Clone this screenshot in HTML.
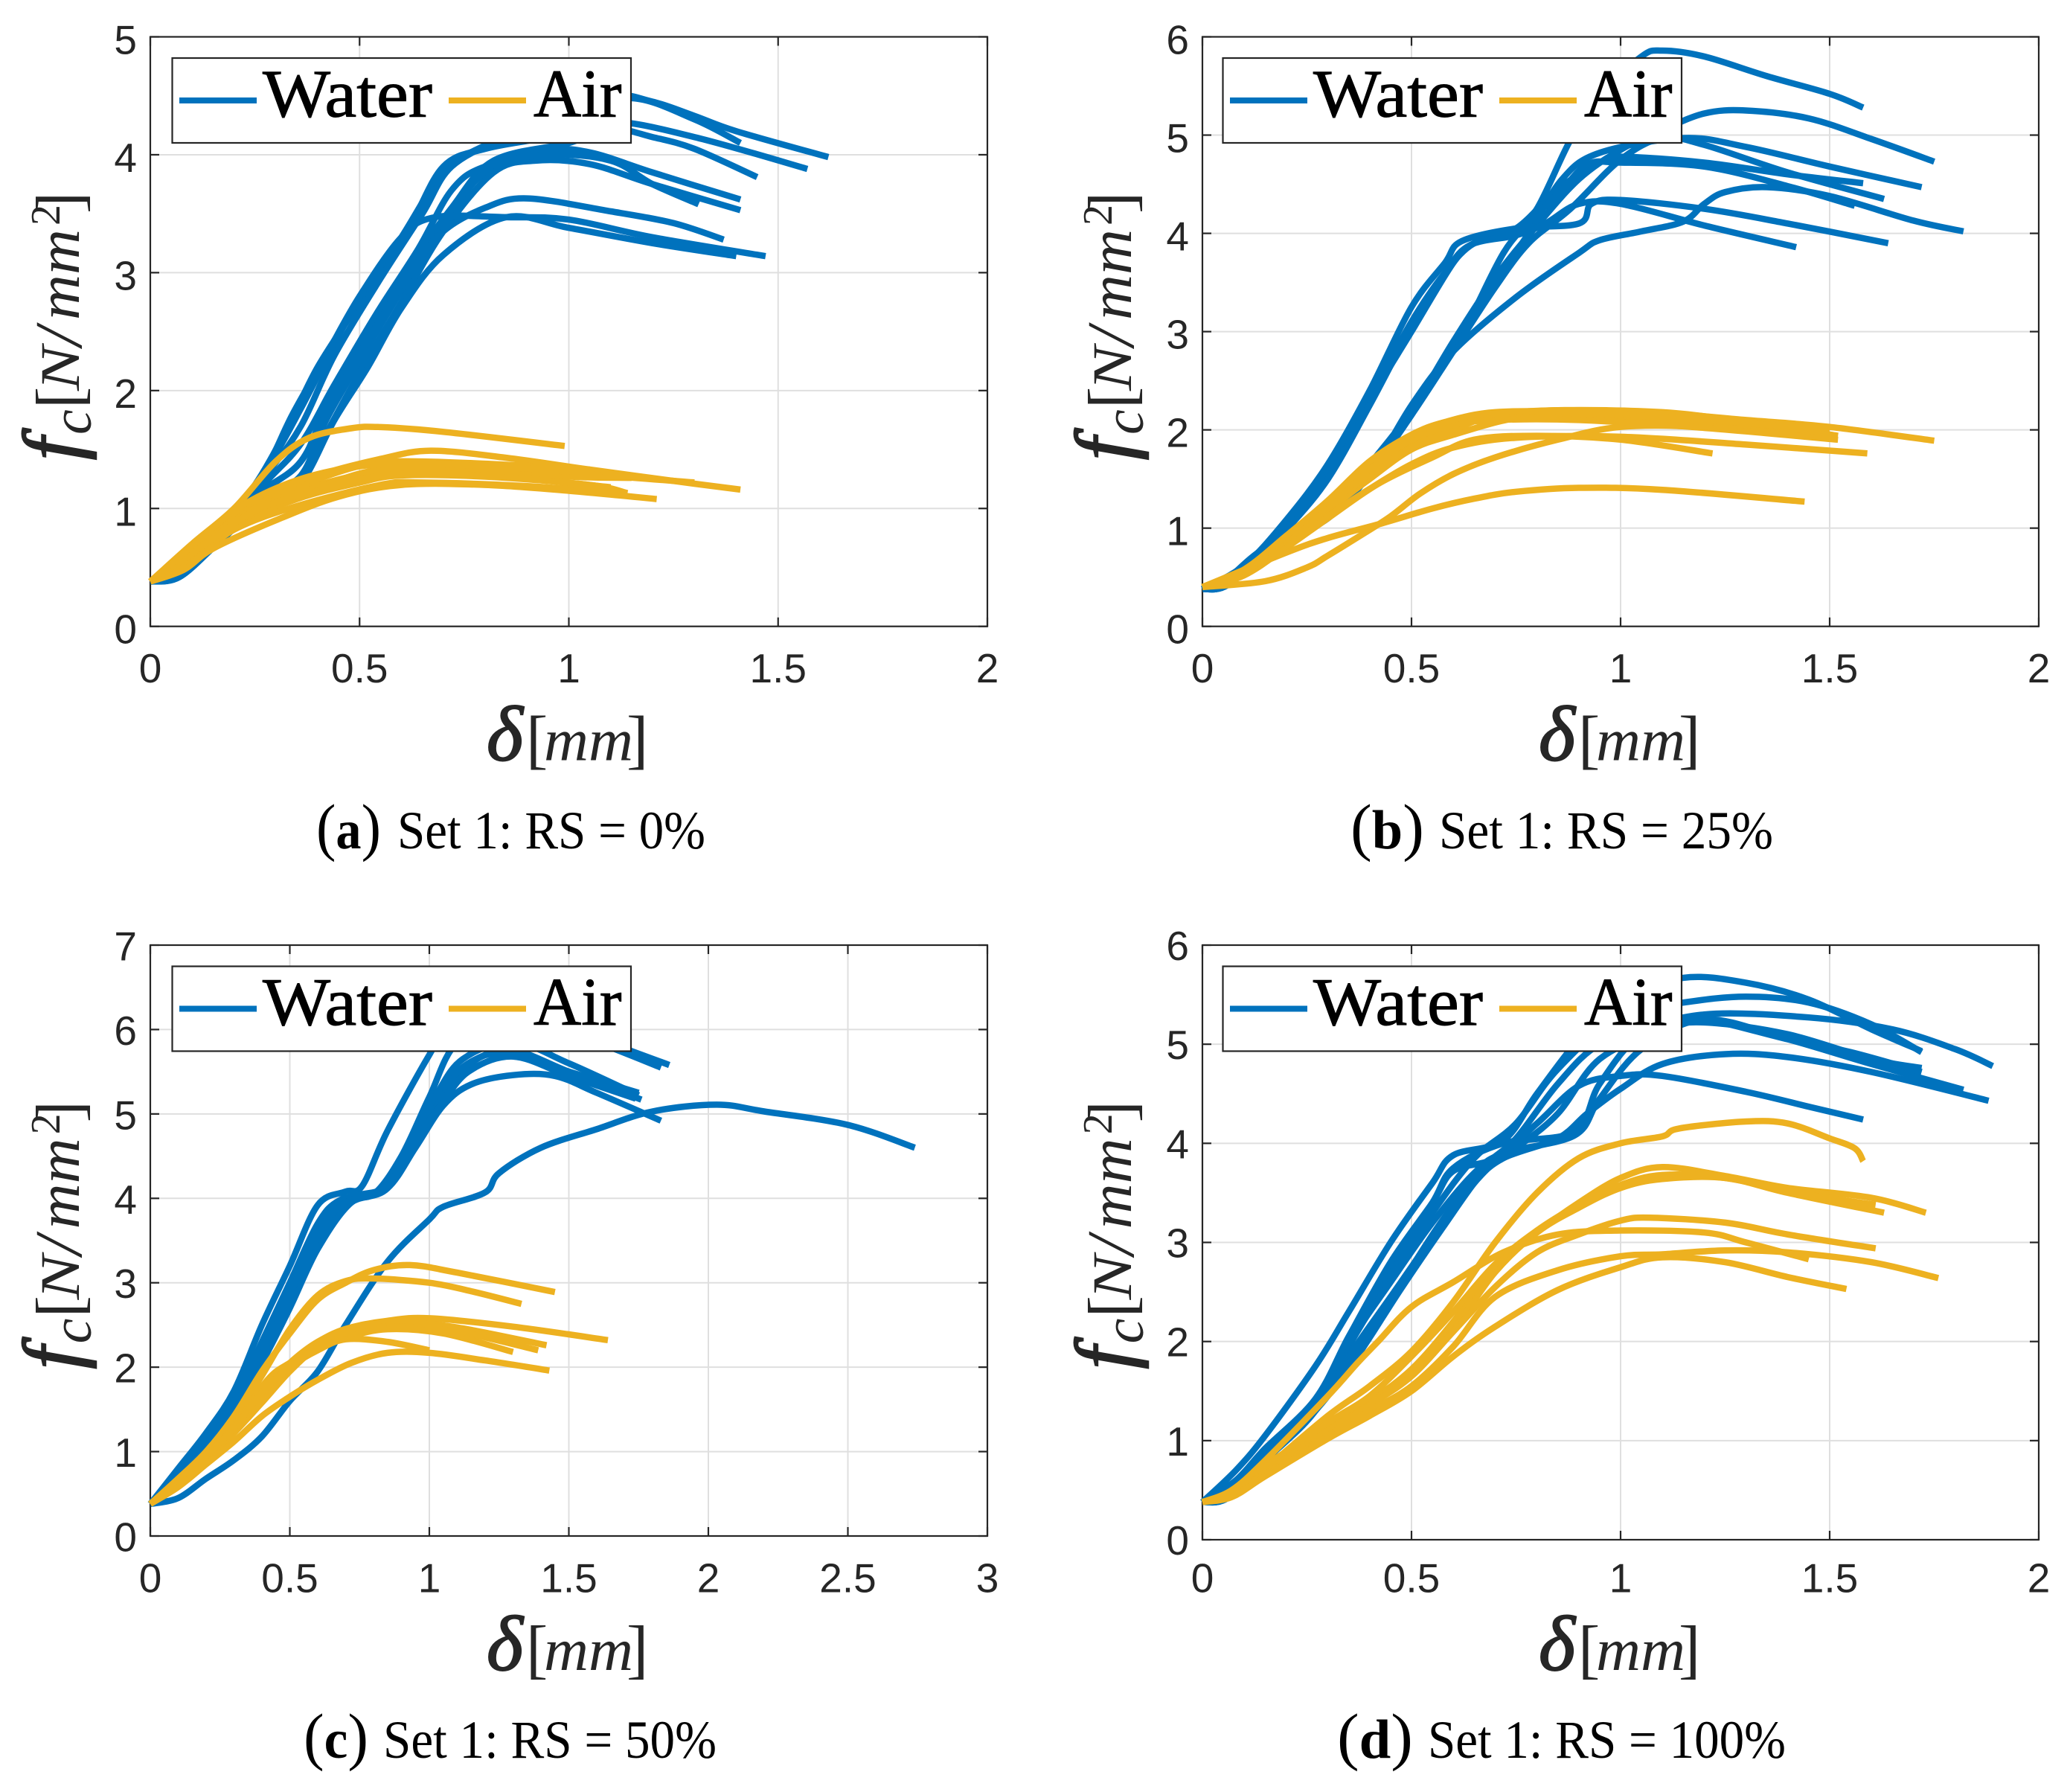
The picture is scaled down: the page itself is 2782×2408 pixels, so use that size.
<!DOCTYPE html>
<html lang="en">
<head>
<meta charset="utf-8">
<title>Set 1: load-displacement curves for RS = 0%, 25%, 50%, 100%</title>
<style>
html,body{margin:0;padding:0;background:#fff;}
svg{display:block;}
.serif{font-family:"Liberation Serif",serif;}
.ink{fill:#262626;}
.tick-label{font-family:"Liberation Sans",sans-serif;font-size:55px;fill:#262626;}
.legend-label{font-family:"Liberation Serif",serif;font-size:91px;fill:#000;stroke:#000;stroke-width:1;}
.cap{font-family:"Liberation Serif",serif;fill:#000;}
</style>
</head>
<body>
<svg xmlns="http://www.w3.org/2000/svg" width="2782" height="2408" viewBox="0 0 2782 2408">
<rect width="2782" height="2408" fill="#fff"/>

<!-- PANEL A -->
<g id="plot-a"></g>
<g transform="translate(202,49.5)">
  <rect x="29.5" y="28.5" width="616.5" height="114" fill="#fff" stroke="#262626" stroke-width="2.2"/>
  <line x1="39" x2="143" y1="85.5" y2="85.5" stroke="#0072BD" stroke-width="8"/>
  <text x="151" y="107" class="legend-label" textLength="228" lengthAdjust="spacingAndGlyphs">Water</text>
  <line x1="401" x2="505" y1="85.5" y2="85.5" stroke="#EDB120" stroke-width="8"/>
  <text x="515" y="107" class="legend-label" textLength="118.5" lengthAdjust="spacingAndGlyphs">Air</text>
</g>
<g transform="translate(202,841.7)" class="serif ink">
  <text x="452" y="180" font-size="105" font-style="italic" stroke="#262626" stroke-width="2">δ</text>
  <text x="505" y="181" font-size="88">[</text>
  <text x="529" y="180" font-size="80" font-style="italic" textLength="120" lengthAdjust="spacingAndGlyphs">mm</text>
  <text x="640" y="181" font-size="88">]</text>
</g>
<g transform="translate(106,632) rotate(-90)" class="serif ink">
  <text x="14" y="0" font-size="108" font-style="italic" stroke="#262626" stroke-width="2.5">f</text>
  <text x="48" y="16" font-size="76" font-style="italic">c</text>
  <text x="83" y="3" font-size="88">[</text>
  <text x="107" y="0" font-size="75" font-style="italic" textLength="60" lengthAdjust="spacingAndGlyphs">N</text>
  <text x="167" y="3" font-size="90" font-style="italic">/</text>
  <text x="202" y="0" font-size="80" font-style="italic" textLength="122" lengthAdjust="spacingAndGlyphs">mm</text>
  <text x="329" y="-26" font-size="56">2</text>
  <text x="345" y="3" font-size="88">]</text>
</g>
<g>
  <text x="425" y="1140" class="cap" font-size="86" textLength="87" lengthAdjust="spacingAndGlyphs">(<tspan font-weight="bold" font-size="74">a</tspan>)</text>
  <text x="534" y="1140" class="cap" font-size="72" textLength="414" lengthAdjust="spacingAndGlyphs">Set 1: RS = 0%</text>
</g>

<!-- PANEL B -->
<g id="plot-b"></g>
<g transform="translate(1616,49.5)">
  <rect x="27.5" y="28.5" width="616.5" height="114" fill="#fff" stroke="#262626" stroke-width="2.2"/>
  <line x1="37" x2="141" y1="85.5" y2="85.5" stroke="#0072BD" stroke-width="8"/>
  <text x="149" y="107" class="legend-label" textLength="228" lengthAdjust="spacingAndGlyphs">Water</text>
  <line x1="399" x2="503" y1="85.5" y2="85.5" stroke="#EDB120" stroke-width="8"/>
  <text x="513" y="107" class="legend-label" textLength="118.5" lengthAdjust="spacingAndGlyphs">Air</text>
</g>
<g transform="translate(1616,841.7)" class="serif ink">
  <text x="452" y="180" font-size="105" font-style="italic" stroke="#262626" stroke-width="2">δ</text>
  <text x="505" y="181" font-size="88">[</text>
  <text x="529" y="180" font-size="80" font-style="italic" textLength="120" lengthAdjust="spacingAndGlyphs">mm</text>
  <text x="640" y="181" font-size="88">]</text>
</g>
<g transform="translate(1520,632) rotate(-90)" class="serif ink">
  <text x="14" y="0" font-size="108" font-style="italic" stroke="#262626" stroke-width="2.5">f</text>
  <text x="48" y="16" font-size="76" font-style="italic">c</text>
  <text x="83" y="3" font-size="88">[</text>
  <text x="107" y="0" font-size="75" font-style="italic" textLength="60" lengthAdjust="spacingAndGlyphs">N</text>
  <text x="167" y="3" font-size="90" font-style="italic">/</text>
  <text x="202" y="0" font-size="80" font-style="italic" textLength="122" lengthAdjust="spacingAndGlyphs">mm</text>
  <text x="329" y="-26" font-size="56">2</text>
  <text x="345" y="3" font-size="88">]</text>
</g>
<g>
  <text x="1815" y="1140" class="cap" font-size="86" textLength="99" lengthAdjust="spacingAndGlyphs">(<tspan font-weight="bold" font-size="74">b</tspan>)</text>
  <text x="1934" y="1140" class="cap" font-size="72" textLength="449" lengthAdjust="spacingAndGlyphs">Set 1: RS = 25%</text>
</g>

<!-- PANEL C -->
<g id="plot-c"></g>
<g transform="translate(202,1270)">
  <rect x="29.5" y="28.5" width="616.5" height="114" fill="#fff" stroke="#262626" stroke-width="2.2"/>
  <line x1="39" x2="143" y1="85.5" y2="85.5" stroke="#0072BD" stroke-width="8"/>
  <text x="151" y="107" class="legend-label" textLength="228" lengthAdjust="spacingAndGlyphs">Water</text>
  <line x1="401" x2="505" y1="85.5" y2="85.5" stroke="#EDB120" stroke-width="8"/>
  <text x="515" y="107" class="legend-label" textLength="118.5" lengthAdjust="spacingAndGlyphs">Air</text>
</g>
<g transform="translate(202,2064)" class="serif ink">
  <text x="452" y="180" font-size="105" font-style="italic" stroke="#262626" stroke-width="2">δ</text>
  <text x="505" y="181" font-size="88">[</text>
  <text x="529" y="180" font-size="80" font-style="italic" textLength="120" lengthAdjust="spacingAndGlyphs">mm</text>
  <text x="640" y="181" font-size="88">]</text>
</g>
<g transform="translate(106,1853.4) rotate(-90)" class="serif ink">
  <text x="14" y="0" font-size="108" font-style="italic" stroke="#262626" stroke-width="2.5">f</text>
  <text x="48" y="16" font-size="76" font-style="italic">c</text>
  <text x="83" y="3" font-size="88">[</text>
  <text x="107" y="0" font-size="75" font-style="italic" textLength="60" lengthAdjust="spacingAndGlyphs">N</text>
  <text x="167" y="3" font-size="90" font-style="italic">/</text>
  <text x="202" y="0" font-size="80" font-style="italic" textLength="122" lengthAdjust="spacingAndGlyphs">mm</text>
  <text x="329" y="-26" font-size="56">2</text>
  <text x="345" y="3" font-size="88">]</text>
</g>
<g>
  <text x="408" y="2362" class="cap" font-size="86" textLength="87" lengthAdjust="spacingAndGlyphs">(<tspan font-weight="bold" font-size="74">c</tspan>)</text>
  <text x="515" y="2362" class="cap" font-size="72" textLength="448" lengthAdjust="spacingAndGlyphs">Set 1: RS = 50%</text>
</g>

<!-- PANEL D -->
<g id="plot-d"></g>
<g transform="translate(1616,1270)">
  <rect x="27.5" y="28.5" width="616.5" height="114" fill="#fff" stroke="#262626" stroke-width="2.2"/>
  <line x1="37" x2="141" y1="85.5" y2="85.5" stroke="#0072BD" stroke-width="8"/>
  <text x="149" y="107" class="legend-label" textLength="228" lengthAdjust="spacingAndGlyphs">Water</text>
  <line x1="399" x2="503" y1="85.5" y2="85.5" stroke="#EDB120" stroke-width="8"/>
  <text x="513" y="107" class="legend-label" textLength="118.5" lengthAdjust="spacingAndGlyphs">Air</text>
</g>
<g transform="translate(1616,2064)" class="serif ink">
  <text x="452" y="180" font-size="105" font-style="italic" stroke="#262626" stroke-width="2">δ</text>
  <text x="505" y="181" font-size="88">[</text>
  <text x="529" y="180" font-size="80" font-style="italic" textLength="120" lengthAdjust="spacingAndGlyphs">mm</text>
  <text x="640" y="181" font-size="88">]</text>
</g>
<g transform="translate(1520,1853.4) rotate(-90)" class="serif ink">
  <text x="14" y="0" font-size="108" font-style="italic" stroke="#262626" stroke-width="2.5">f</text>
  <text x="48" y="16" font-size="76" font-style="italic">c</text>
  <text x="83" y="3" font-size="88">[</text>
  <text x="107" y="0" font-size="75" font-style="italic" textLength="60" lengthAdjust="spacingAndGlyphs">N</text>
  <text x="167" y="3" font-size="90" font-style="italic">/</text>
  <text x="202" y="0" font-size="80" font-style="italic" textLength="122" lengthAdjust="spacingAndGlyphs">mm</text>
  <text x="329" y="-26" font-size="56">2</text>
  <text x="345" y="3" font-size="88">]</text>
</g>
<g>
  <text x="1797" y="2362" class="cap" font-size="86" textLength="102" lengthAdjust="spacingAndGlyphs">(<tspan font-weight="bold" font-size="74">d</tspan>)</text>
  <text x="1919" y="2362" class="cap" font-size="72" textLength="481" lengthAdjust="spacingAndGlyphs">Set 1: RS = 100%</text>
</g>
</svg>

<script>
// Tick values and labels
const xTicksAB = [0, 0.5, 1, 1.5, 2];
const xLabelsAB = ['0', '0.5', '1', '1.5', '2'];
const xTicksC = [0, 0.5, 1, 1.5, 2, 2.5, 3];
const xLabelsC = ['0', '0.5', '1', '1.5', '2', '2.5', '3'];
const yTicksA = [0, 1, 2, 3, 4, 5];
const yTicksBD = [0, 1, 2, 3, 4, 5, 6];
const yTicksC = [0, 1, 2, 3, 4, 5, 6, 7];

// Each curve: x0, y0, x1, y1, ... in data units (delta in mm, fc in N/mm2)
const waterA = [
  [0,.38,.07,.43,.15,.76,.25,1.2,.33,1.7,.4,2.2,.5,2.75,.6,3.3,.7,3.85,.8,4.08,.95,4.3,1.1,4.5,1.2,4.45,1.3,4.33,1.4,4.2,1.62,3.98],
  [0,.38,.08,.5,.18,.88,.28,1.35,.36,1.85,.44,2.4,.52,2.9,.62,3.4,.7,3.9,.8,4.05,.95,4.15,1.1,4.28,1.3,4.15,1.57,3.88],
  [0,.38,.07,.45,.16,.76,.26,1.12,.36,1.4,.42,1.85,.5,2.35,.6,2.95,.72,3.55,.82,3.95,1.0,4.1,1.1,4.22,1.2,4.15,1.3,4.05,1.45,3.81],
  [0,.38,.08,.48,.18,.85,.28,1.3,.36,1.7,.44,2.3,.55,2.95,.65,3.5,.72,3.9,.85,4.15,1.0,4.35,1.15,4.48,1.3,4.3,1.41,4.1],
  [0,.38,.07,.42,.16,.72,.27,1.1,.36,1.28,.42,1.75,.5,2.25,.6,2.85,.7,3.4,.8,3.85,.95,4.03,1.05,4.02,1.2,3.85,1.41,3.62],
  [0,.38,.07,.42,.16,.7,.27,1.05,.36,1.25,.43,1.7,.5,2.15,.6,2.75,.7,3.35,.82,3.85,.92,3.95,1.05,3.92,1.2,3.75,1.41,3.53],
  [0,.38,.07,.44,.17,.78,.27,1.2,.36,1.55,.44,2.05,.54,2.65,.64,3.2,.72,3.7,.8,3.9,.95,4.0,1.1,3.95,1.2,3.75,1.31,3.58],
  [0,.38,.07,.44,.17,.78,.27,1.15,.36,1.4,.44,1.95,.54,2.55,.62,3.0,.7,3.35,.8,3.55,.9,3.63,1.1,3.52,1.25,3.42,1.37,3.28],
  [0,.38,.07,.46,.17,.85,.27,1.3,.34,1.8,.42,2.3,.5,2.8,.6,3.3,.68,3.47,.85,3.47,1.0,3.45,1.2,3.3,1.47,3.14],
  [0,.38,.07,.42,.16,.7,.27,1.05,.36,1.22,.44,1.75,.52,2.2,.6,2.7,.7,3.15,.85,3.47,1.0,3.38,1.2,3.25,1.4,3.14]
];
const airA = [
  [0,.38,.1,.7,.2,1.0,.3,1.4,.38,1.6,.48,1.68,.55,1.69,.7,1.65,.99,1.53],
  [0,.38,.1,.65,.2,.95,.3,1.12,.4,1.28,.55,1.42,.67,1.49,.85,1.43,1.05,1.33,1.3,1.21,1.41,1.16],
  [0,.38,.1,.68,.2,.95,.3,1.13,.4,1.25,.5,1.36,.6,1.4,.8,1.38,1.05,1.33],
  [0,.38,.1,.6,.25,1.05,.4,1.2,.55,1.32,.7,1.35,1.0,1.3,1.3,1.22],
  [0,.38,.1,.58,.2,.85,.35,1.08,.5,1.22,.6,1.28,.8,1.27,1.05,1.2,1.14,1.13],
  [0,.38,.1,.55,.2,.82,.35,1.02,.55,1.2,.65,1.22,.9,1.19,1.14,1.13],
  [0,.38,.08,.48,.15,.66,.3,.9,.45,1.1,.6,1.2,.8,1.2,1.0,1.15,1.21,1.08],
  [0,.38,.1,.65,.25,1.0,.4,1.18,.55,1.33,.75,1.33,1.0,1.27,1.15,1.26],
  [0,.38,.1,.62,.25,.98,.4,1.15,.5,1.25,.65,1.3,.9,1.25,1.1,1.18],
  [0,.38,.1,.68,.2,.98,.32,1.2,.45,1.33,.6,1.38,.85,1.35,1.05,1.3]
];

const waterB = [
  [0,.38,.05,.45,.15,.8,.3,1.1,.4,1.6,.47,2.0,.55,2.5,.63,3.05,.72,3.8,.8,4.25,.88,4.95,.95,5.4,1.05,5.8,1.1,5.86,1.2,5.8,1.35,5.6,1.5,5.42,1.58,5.28],
  [0,.38,.06,.42,.16,.8,.3,1.15,.4,1.65,.5,2.2,.6,2.9,.7,3.55,.8,4.08,.9,4.55,1.0,4.85,1.1,5.05,1.2,5.22,1.3,5.25,1.45,5.17,1.6,4.96,1.75,4.73],
  [0,.38,.06,.42,.16,.8,.3,1.12,.4,1.6,.5,2.2,.6,2.85,.7,3.5,.78,4.0,.86,4.55,.95,4.82,1.15,4.97,1.3,4.88,1.5,4.68,1.72,4.47],
  [0,.38,.1,.55,.2,1.0,.3,1.55,.4,2.3,.5,3.0,.6,3.7,.65,3.9,.75,4.05,.85,4.45,.95,4.72,1.0,4.78,1.2,4.72,1.4,4.6,1.58,4.51],
  [0,.38,.06,.42,.16,.8,.3,1.1,.4,1.55,.5,2.15,.6,2.8,.7,3.45,.78,3.9,.88,4.25,1.0,4.75,1.1,4.97,1.2,4.9,1.4,4.62,1.63,4.35],
  [0,.38,.1,.55,.2,1.02,.3,1.58,.4,2.32,.5,3.1,.58,3.6,.65,3.9,.75,4.02,.85,4.4,.92,4.7,1.0,4.72,1.2,4.68,1.4,4.48,1.56,4.28],
  [0,.38,.06,.42,.16,.78,.3,1.1,.4,1.55,.5,2.25,.6,2.8,.75,3.35,.9,3.8,.95,3.93,1.05,4.02,1.15,4.12,1.2,4.3,1.25,4.42,1.35,4.47,1.5,4.38,1.7,4.13,1.82,4.02],
  [0,.38,.1,.62,.2,1.08,.3,1.65,.4,2.4,.5,3.25,.58,3.7,.62,3.92,.75,4.05,.9,4.1,.93,4.3,1.0,4.34,1.2,4.25,1.4,4.1,1.64,3.9],
  [0,.38,.1,.55,.2,.98,.3,1.5,.4,2.25,.5,3.05,.58,3.6,.64,3.88,.75,3.98,.82,4.1,.9,4.3,1.0,4.3,1.2,4.08,1.42,3.86]
];
const airB = [
  [0,.4,.2,.75,.3,.9,.43,1.05,.55,1.2,.65,1.3,.75,1.37,.9,1.41,1.1,1.39,1.44,1.27],
  [0,.4,.15,.46,.25,.6,.3,.72,.38,.93,.45,1.12,.52,1.35,.6,1.55,.7,1.72,.85,1.9,1.0,2.03,1.2,2.03,1.5,1.95],
  [0,.4,.1,.55,.2,.9,.3,1.2,.4,1.55,.5,1.85,.6,2.05,.72,2.15,.85,2.2,1.1,2.17,1.3,2.1,1.5,2.03,1.75,1.89],
  [0,.4,.1,.55,.2,.85,.3,1.18,.4,1.5,.5,1.8,.6,1.95,.75,2.12,.9,2.15,1.1,2.1,1.35,1.98],
  [0,.4,.1,.52,.2,.8,.3,1.1,.42,1.45,.55,1.72,.65,1.9,.8,1.94,1.0,1.9,1.22,1.76],
  [0,.4,.1,.52,.2,.82,.3,1.12,.4,1.4,.5,1.65,.6,1.82,.75,1.92,1.0,1.93,1.3,1.85,1.59,1.76],
  [0,.4,.1,.55,.2,.88,.3,1.2,.4,1.55,.5,1.82,.6,2.0,.7,2.15,.85,2.2,1.1,2.18,1.3,2.08,1.52,1.94],
  [0,.4,.1,.55,.2,.9,.3,1.22,.4,1.6,.5,1.9,.6,2.05,.7,2.1,.9,2.1,1.2,2.02,1.52,1.9],
  [0,.4,.1,.58,.2,.92,.3,1.28,.4,1.68,.5,1.95,.58,2.08,.7,2.18,.9,2.18,1.2,2.1,1.5,2.0]
];

const waterC = [
  [0,.38,.1,.45,.2,.68,.3,.9,.4,1.18,.5,1.6,.6,1.95,.7,2.5,.85,3.25,1.0,3.75,1.05,3.9,1.2,4.07,1.25,4.3,1.4,4.6,1.6,4.82,1.8,5.03,2.03,5.11,2.2,5.03,2.5,4.87,2.74,4.6],
  [0,.38,.1,.8,.2,1.22,.3,1.72,.4,2.5,.5,3.2,.6,3.92,.7,4.08,.76,4.15,.85,4.8,1.0,5.7,1.1,6.2,1.3,6.3,1.6,5.9,1.86,5.58],
  [0,.38,.1,.72,.2,1.12,.3,1.55,.4,2.2,.5,2.9,.62,3.7,.7,4.0,.8,4.05,.9,4.5,1.0,5.2,1.1,5.85,1.3,6.2,1.6,5.85,1.83,5.55],
  [0,.38,.1,.7,.2,1.08,.3,1.5,.4,2.1,.5,2.75,.62,3.55,.72,3.95,.85,4.12,.95,4.7,1.05,5.2,1.15,5.6,1.25,5.72,1.4,5.6,1.6,5.4,1.75,5.25],
  [0,.38,.1,.72,.2,1.1,.3,1.52,.4,2.15,.5,2.82,.6,3.5,.7,3.98,.85,4.15,.95,4.75,1.05,5.3,1.15,5.62,1.3,5.75,1.5,5.5,1.76,5.17],
  [0,.38,.1,.68,.2,1.05,.3,1.45,.4,2.05,.5,2.7,.6,3.4,.72,3.95,.85,4.12,.95,4.6,1.05,5.1,1.15,5.35,1.3,5.46,1.45,5.45,1.6,5.25,1.83,4.92],
  [0,.38,.1,.75,.2,1.15,.3,1.6,.4,2.3,.5,3.0,.6,3.7,.68,3.98,.82,4.1,.92,4.6,1.02,5.2,1.12,5.65,1.3,5.85,1.5,5.6,1.75,5.22],
  [0,.38,.1,.7,.2,1.1,.3,1.48,.4,2.15,.5,2.85,.6,3.6,.7,3.95,.84,4.12,.94,4.65,1.04,5.1,1.14,5.5,1.3,5.68,1.5,5.45,1.74,5.18]
];
const airC = [
  [0,.38,.1,.68,.2,1.0,.3,1.42,.4,1.95,.5,2.4,.6,2.8,.7,3.0,.8,3.15,.93,3.21,1.1,3.12,1.45,2.89],
  [0,.38,.1,.65,.2,.98,.3,1.38,.4,1.9,.5,2.45,.6,2.85,.7,3.02,.8,3.05,1.0,3.0,1.15,2.9,1.33,2.75],
  [0,.38,.1,.62,.2,.9,.3,1.22,.4,1.58,.5,1.95,.6,2.25,.7,2.45,.85,2.55,1.0,2.58,1.3,2.48,1.64,2.32],
  [0,.38,.1,.63,.2,.92,.3,1.28,.4,1.7,.5,2.05,.6,2.3,.72,2.47,.9,2.53,1.1,2.47,1.42,2.26],
  [0,.38,.1,.6,.2,.88,.3,1.22,.4,1.6,.5,1.98,.6,2.25,.7,2.4,.85,2.48,1.1,2.42,1.39,2.2],
  [0,.38,.1,.62,.2,.95,.3,1.3,.42,1.85,.5,2.05,.6,2.22,.7,2.35,.85,2.45,1.05,2.4,1.3,2.18],
  [0,.38,.1,.65,.2,.95,.3,1.28,.4,1.7,.5,2.0,.6,2.2,.7,2.33,.85,2.3,1.0,2.2],
  [0,.38,.1,.58,.2,.85,.3,1.12,.4,1.42,.5,1.65,.6,1.85,.72,2.05,.85,2.17,1.0,2.17,1.2,2.08,1.43,1.96]
];

const waterD = [
  [0,.38,.08,.7,.15,1.05,.27,1.75,.35,2.3,.45,3.0,.55,3.6,.6,3.88,.72,4.03,.8,4.5,.9,5.05,1.0,5.45,1.15,5.67,1.3,5.62,1.45,5.45,1.6,5.15,1.72,4.93],
  [0,.38,.06,.42,.15,.8,.27,1.3,.35,1.95,.45,2.65,.55,3.3,.65,3.85,.75,4.2,.85,4.75,1.0,5.3,1.15,5.42,1.3,5.48,1.45,5.42,1.6,5.2,1.72,4.92],
  [0,.38,.08,.58,.15,.92,.27,1.4,.35,2.05,.45,2.75,.55,3.4,.6,3.75,.72,4.0,.89,4.12,.95,4.6,1.05,5.1,1.2,5.3,1.45,5.27,1.65,5.15,1.8,4.95,1.89,4.78],
  [0,.38,.06,.44,.15,.85,.27,1.35,.35,1.98,.45,2.6,.55,3.2,.65,3.7,.72,3.9,.89,4.08,.95,4.45,1.05,4.95,1.2,5.25,1.4,5.05,1.6,4.8,1.82,4.54],
  [0,.38,.06,.44,.15,.82,.27,1.3,.35,1.85,.45,2.45,.55,3.05,.65,3.6,.72,3.85,.85,4.05,.92,4.3,1.0,4.55,1.1,4.8,1.25,4.9,1.4,4.87,1.6,4.72,1.88,4.43],
  [0,.38,.06,.44,.15,.83,.27,1.32,.37,1.9,.47,2.55,.57,3.2,.67,3.75,.75,4.05,.85,4.6,.95,5.0,1.1,5.2,1.2,5.25,1.4,5.05,1.55,4.92,1.72,4.72],
  [0,.38,.06,.42,.15,.8,.27,1.3,.37,1.85,.47,2.5,.57,3.12,.67,3.7,.75,3.95,.85,4.3,.95,4.85,1.1,5.15,1.2,5.22,1.4,5.1,1.6,4.85,1.72,4.76],
  [0,.38,.08,.6,.15,.92,.27,1.42,.35,2.05,.45,2.8,.55,3.4,.6,3.72,.7,3.85,.8,4.2,.9,4.58,1.0,4.68,1.1,4.68,1.3,4.52,1.45,4.37,1.58,4.24]
];
const airD = [
  [0,.38,.07,.48,.15,.72,.3,1.25,.4,1.55,.5,1.9,.6,2.4,.7,3.0,.8,3.5,.9,3.85,1.0,4.0,1.1,4.07,1.14,4.15,1.3,4.22,1.4,4.2,1.5,4.05,1.56,3.95,1.58,3.82],
  [0,.38,.07,.48,.15,.75,.3,1.15,.4,1.4,.5,1.72,.6,2.2,.7,2.75,.8,3.1,.9,3.4,1.0,3.65,1.1,3.76,1.25,3.67,1.4,3.55,1.6,3.45,1.73,3.3],
  [0,.38,.07,.45,.15,.7,.3,1.12,.4,1.38,.5,1.7,.6,2.12,.7,2.7,.8,3.1,.9,3.35,1.0,3.55,1.1,3.64,1.25,3.65,1.4,3.5,1.63,3.3],
  [0,.38,.07,.47,.15,.72,.3,1.18,.4,1.45,.5,1.85,.6,2.3,.7,2.78,.8,3.12,.9,3.38,1.0,3.58,1.1,3.68,1.25,3.65,1.45,3.48,1.61,3.38],
  [0,.38,.07,.45,.15,.68,.3,1.1,.4,1.36,.5,1.65,.6,2.1,.7,2.55,.8,2.9,.9,3.08,1.0,3.22,1.07,3.25,1.25,3.2,1.4,3.08,1.61,2.94],
  [0,.38,.07,.5,.15,.8,.3,1.45,.37,1.78,.42,2.0,.5,2.35,.6,2.6,.72,2.9,.85,3.08,1.0,3.12,1.2,3.1,1.3,3.0,1.45,2.83],
  [0,.38,.07,.44,.15,.66,.3,1.05,.4,1.3,.5,1.55,.6,1.95,.7,2.45,.85,2.72,1.0,2.86,1.1,2.88,1.25,2.92,1.4,2.9,1.6,2.8,1.76,2.64],
  [0,.38,.07,.43,.15,.64,.3,1.02,.4,1.25,.5,1.5,.6,1.85,.7,2.15,.85,2.52,1.0,2.75,1.1,2.85,1.25,2.8,1.4,2.65,1.54,2.53]
];

const svgNS = 'http://www.w3.org/2000/svg';

function make(parent, tag, attrs) {
  const node = document.createElementNS(svgNS, tag);
  for (const key in attrs) {
    node.setAttribute(key, attrs[key]);
  }
  parent.appendChild(node);
  return node;
}

function smoothPath(points) {
  let d = 'M' + points[0][0].toFixed(1) + ' ' + points[0][1].toFixed(1);
  for (let i = 0; i < points.length - 1; i++) {
    const p0 = points[Math.max(i - 1, 0)];
    const p1 = points[i];
    const p2 = points[i + 1];
    const p3 = points[Math.min(i + 2, points.length - 1)];
    const c1x = p1[0] + (p2[0] - p0[0]) / 6;
    const c1y = p1[1] + (p2[1] - p0[1]) / 6;
    const c2x = p2[0] - (p3[0] - p1[0]) / 6;
    const c2y = p2[1] - (p3[1] - p1[1]) / 6;
    d += 'C' + c1x.toFixed(1) + ' ' + c1y.toFixed(1) + ' ' + c2x.toFixed(1) + ' ' + c2y.toFixed(1) + ' ' + p2[0].toFixed(1) + ' ' + p2[1].toFixed(1);
  }
  return d;
}

function drawPanel(id, left, right, bottom, top, xMax, yMax, xTicks, xLabels, yTicks, water, air, xLabelY, yLabelShift) {
  const root = document.getElementById('plot-' + id);
  const sx = v => left + (v / xMax) * (right - left);
  const sy = v => bottom - (v / yMax) * (bottom - top);

  xTicks.forEach(v => {
    if (v === 0 || v === xMax) return;
    const grid = make(root, 'line', {x1: sx(v), x2: sx(v), y1: top, y2: bottom, stroke: '#dfdfdf', 'stroke-width': 2});
    
    
  });
  yTicks.forEach(v => {
    if (v === 0 || v === yMax) return;
    const grid = make(root, 'line', {x1: left, x2: right, y1: sy(v), y2: sy(v), stroke: '#dfdfdf', 'stroke-width': 2});
    
    
  });

  const box = make(root, 'rect', {x: left, y: top, width: right - left, height: bottom - top, fill: 'none', stroke: '#262626', 'stroke-width': 2.2});
  
  

  xTicks.forEach((v, i) => {
    const t1 = make(root, 'line', {x1: sx(v), x2: sx(v), y1: bottom, y2: bottom - 12, stroke: '#262626', 'stroke-width': 2.2});
    
    
    const t2 = make(root, 'line', {x1: sx(v), x2: sx(v), y1: top, y2: top + 12, stroke: '#262626', 'stroke-width': 2.2});
    
    
    const label = make(root, 'text', {x: sx(v), y: xLabelY, 'text-anchor': 'middle', class: 'tick-label'});
    
    
    label.textContent = xLabels[i];
  });
  yTicks.forEach(v => {
    const t1 = make(root, 'line', {x1: left, x2: left + 12, y1: sy(v), y2: sy(v), stroke: '#262626', 'stroke-width': 2.2});
    
    
    const t2 = make(root, 'line', {x1: right, x2: right - 12, y1: sy(v), y2: sy(v), stroke: '#262626', 'stroke-width': 2.2});
    
    
    const label = make(root, 'text', {x: left - 18, y: sy(v) + yLabelShift, 'text-anchor': 'end', class: 'tick-label'});
    
    
    label.textContent = String(v);
  });

  const toPoints = curve => {
    const pts = [];
    for (let i = 0; i < curve.length; i += 2) {
      pts.push([sx(curve[i]), sy(curve[i + 1])]);
    }
    return pts;
  };

  water.forEach(curve => {
    const line = make(root, 'path', {d: smoothPath(toPoints(curve)), fill: 'none', stroke: '#0072BD', 'stroke-width': 8.5, 'stroke-linejoin': 'round'});
    
    
  });
  air.forEach(curve => {
    const line = make(root, 'path', {d: smoothPath(toPoints(curve)), fill: 'none', stroke: '#EDB120', 'stroke-width': 8.5, 'stroke-linejoin': 'round'});
    
    
  });
}

drawPanel('a', 202, 1327, 841.7, 49.5, 2, 5, xTicksAB, xLabelsAB, yTicksA, waterA, airA, 917, 23);
drawPanel('b', 1616, 2740, 841.7, 49.5, 2, 6, xTicksAB, xLabelsAB, yTicksBD, waterB, airB, 917, 23);
drawPanel('c', 202, 1327, 2064, 1270, 3, 7, xTicksC, xLabelsC, yTicksC, waterC, airC, 2139.5, 20.5);
drawPanel('d', 1616, 2740, 2069, 1270, 2, 6, xTicksAB, xLabelsAB, yTicksBD, waterD, airD, 2139.5, 20);
</script>
</body>
</html>
